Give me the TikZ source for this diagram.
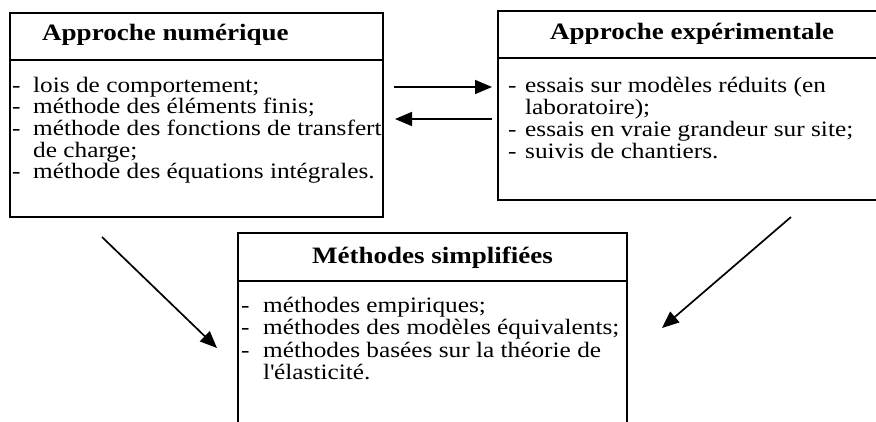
\documentclass[tikz,border=0pt]{standalone}
\usepackage{fontspec}
\setmainfont{Liberation Serif}[FakeStretch=1.15]
\usetikzlibrary{arrows.meta}

\newcommand\dashto[1]{\makebox[#1][l]{-}}

\tikzset{
  frame/.style={draw, line width=2pt, inner sep=0pt, outer sep=0pt, anchor=north west},
  boxtitle/.style={font=\fontsize{23.5}{28}\selectfont\bfseries, anchor=base west, inner sep=0pt},
  item/.style={font=\fontsize{22}{22}\selectfont, anchor=base west, inner sep=0pt},
  link/.style={line width=1.7pt, -{Triangle[length=17pt,width=14pt]}}
}

\begin{document}
\begin{tikzpicture}[x=1pt,y=-1pt]
\useasboundingbox (0,0) rectangle (876,421);
\clip (0,0) rectangle (876,421);

% --- Approche numérique ---
\node[frame, minimum width=373pt, minimum height=47pt] (numHead) at (10,13) {};
\node[frame, minimum width=373pt, minimum height=157pt] (numBody) at (10,60) {};
\node[boxtitle] (numTitle) at (42,40) {Approche numérique};
\node[item] (num1) at (12,92)    {\dashto{21pt}lois de comportement;};
\node[item] (num2) at (12,113.7) {\dashto{21pt}méthode des éléments finis;};
\node[item] (num3) at (12,135.4) {\dashto{21pt}méthode des fonctions de transfert};
\node[item] (num4) at (33,157.1) {de charge;};
\node[item] (num5) at (12,178.8) {\dashto{21pt}méthode des équations intégrales.};

% --- Approche expérimentale ---
\node[frame, minimum width=402pt, minimum height=47pt] (expHead) at (498,11) {};
\node[frame, minimum width=402pt, minimum height=142pt] (expBody) at (498,58) {};
\node[boxtitle] (expTitle) at (550,39) {Approche expérimentale};
\node[item] (exp1) at (508,92)  {\dashto{17pt}essais sur modèles réduits (en};
\node[item] (exp2) at (525,114.3) {laboratoire);};
\node[item] (exp3) at (508,136.6) {\dashto{17pt}essais en vraie grandeur sur site;};
\node[item] (exp4) at (508,158.9) {\dashto{17pt}suivis de chantiers.};

% --- Méthodes simplifiées ---
\node[frame, minimum width=389pt, minimum height=48pt] (simHead) at (238,233) {};
\node[frame, minimum width=389pt, minimum height=159pt] (simBody) at (238,281) {};
\node[boxtitle, anchor=base] (simTitle) at (432.5,263) {Méthodes simplifiées};
\node[item] (sim1) at (241,312)   {\dashto{22pt}méthodes empiriques;};
\node[item] (sim2) at (241,334.5) {\dashto{22pt}méthodes des modèles équivalents;};
\node[item] (sim3) at (241,357)   {\dashto{22pt}méthodes basées sur la théorie de};
\node[item] (sim4) at (263,379.5) {l\textquotesingle élasticité.};

% --- connectors ---
\coordinate (a1s) at (394,87);
\coordinate (a1e) at (492,87);
\coordinate (a2s) at (492,119);
\coordinate (a2e) at (395,119);
\coordinate (a3s) at (102,237);
\coordinate (a3e) at (217,348);
\coordinate (a4s) at (791,217);
\coordinate (a4e) at (662,328);
\draw[link] (a1s) -- (a1e);
\draw[link] (a2s) -- (a2e);
\draw[link] (a3s) -- (a3e);
\draw[link] (a4s) -- (a4e);
\end{tikzpicture}
\end{document}
